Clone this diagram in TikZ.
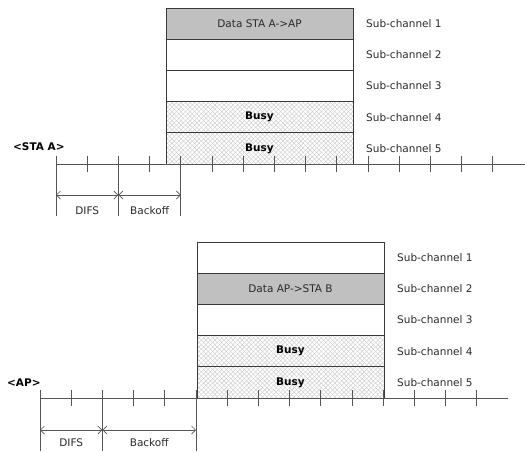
\documentclass[tikz,border=0pt]{standalone}
\usepackage{fontspec}
\setmainfont{DejaVu Sans}
\usetikzlibrary{arrows.meta,patterns.meta}
\definecolor{boxc}{HTML}{3A3A3A}
\definecolor{tickc}{HTML}{555555}
\definecolor{datagray}{HTML}{C0C0C0}
\definecolor{hatchc}{HTML}{C4C4C4}
\definecolor{txtc}{HTML}{2A2A2A}
\begin{document}
\begin{tikzpicture}[x=1pt,y=-1pt,font=\fontsize{10.5}{12}\selectfont,text=txtc,
  row/.style={draw=boxc,line width=0.8pt,minimum width=187pt,minimum height=31.2pt,inner sep=0pt,outer sep=0pt,anchor=north west},
  datarow/.style={row,fill=datagray},
  busyrow/.style={row,
    preaction={pattern={Lines[angle=45,distance=3.2pt,line width=0.35pt]},pattern color=hatchc},
    preaction={pattern={Lines[angle=-45,distance=3.2pt,line width=0.35pt]},pattern color=hatchc},
    font=\fontsize{10.5}{12}\selectfont\bfseries,text=black},
  chlabel/.style={anchor=west,inner sep=0pt},
  tline/.style={draw=tickc,line width=0.8pt},
  tick/.style={draw=tickc,line width=0.8pt},
  dim/.style={draw=tickc,line width=0.7pt,{Straight Barb[length=4pt,width=8pt]}-{Straight Barb[length=4pt,width=8pt]}},
  station/.style={anchor=west,inner sep=0pt,font=\fontsize{10.5}{12}\selectfont\bfseries,text=black}]
\useasboundingbox (0,0) rectangle (525,451);

% ---------- top (STA A) ----------
\node[busyrow] (a4) at (166,101.6) {Busy};
\node[busyrow] (a5) at (166,132.8) {Busy};
\node[datarow] (a1) at (166,8) {Data STA A->AP};
\node[row] (a2) at (166,39.2) {};
\node[row] (a3) at (166,70.4) {};
\node[station] (staA) at (13,147) {<STA A>};
\foreach \i/\y in {1/23.6,2/54.8,3/86,4/117.2,5/148.4}
  \node[chlabel] (la\i) at (366,\y) {Sub-channel \i};
\coordinate (tAs) at (56,164);
\coordinate (tAe) at (525,164);
\draw[tline] (tAs) -- (tAe);
\foreach \k in {1,3,5,6,...,14}
  \draw[tick] (56+31.2*\k,156) -- (56+31.2*\k,172);
\foreach \k in {0,2,4}
  \draw[tick] (56+31.2*\k,156) -- (56+31.2*\k,216);
\coordinate (dA0) at (56,195);
\coordinate (dA1) at (118.4,195);
\coordinate (dA2) at (180.8,195);
\draw[dim] (dA0) -- (dA1);
\draw[dim] (dA1) -- (dA2);
\node (difsA) at (87.2,211) {DIFS};
\node (boA) at (149.6,211) {Backoff};

% ---------- bottom (AP) ----------
\node[busyrow] (b4) at (197,335.6) {Busy};
\node[busyrow] (b5) at (197,366.8) {Busy};
\node[row] (b1) at (197,242) {};
\node[datarow] (b2) at (197,273.2) {Data AP->STA B};
\node[row] (b3) at (197,304.4) {};
\node[station] (ap) at (7,383) {<AP>};
\foreach \i/\y in {1/257.6,2/288.8,3/320,4/351.2,5/382.4}
  \node[chlabel] (lb\i) at (397,\y) {Sub-channel \i};
\coordinate (tBs) at (40,398);
\coordinate (tBe) at (508,398);
\draw[tline] (tBs) -- (tBe);
\foreach \k in {1,3,4,6,7,...,14}
  \draw[tick] (40+31.2*\k,390) -- (40+31.2*\k,406);
\foreach \k in {0,2,5}
  \draw[tick] (40+31.2*\k,390) -- (40+31.2*\k,451);
\coordinate (dB0) at (40,430);
\coordinate (dB1) at (102.4,430);
\coordinate (dB2) at (196,430);
\draw[dim] (dB0) -- (dB1);
\draw[dim] (dB1) -- (dB2);
\node (difsB) at (71.2,443) {DIFS};
\node (boB) at (149.2,443) {Backoff};
\end{tikzpicture}
\end{document}
